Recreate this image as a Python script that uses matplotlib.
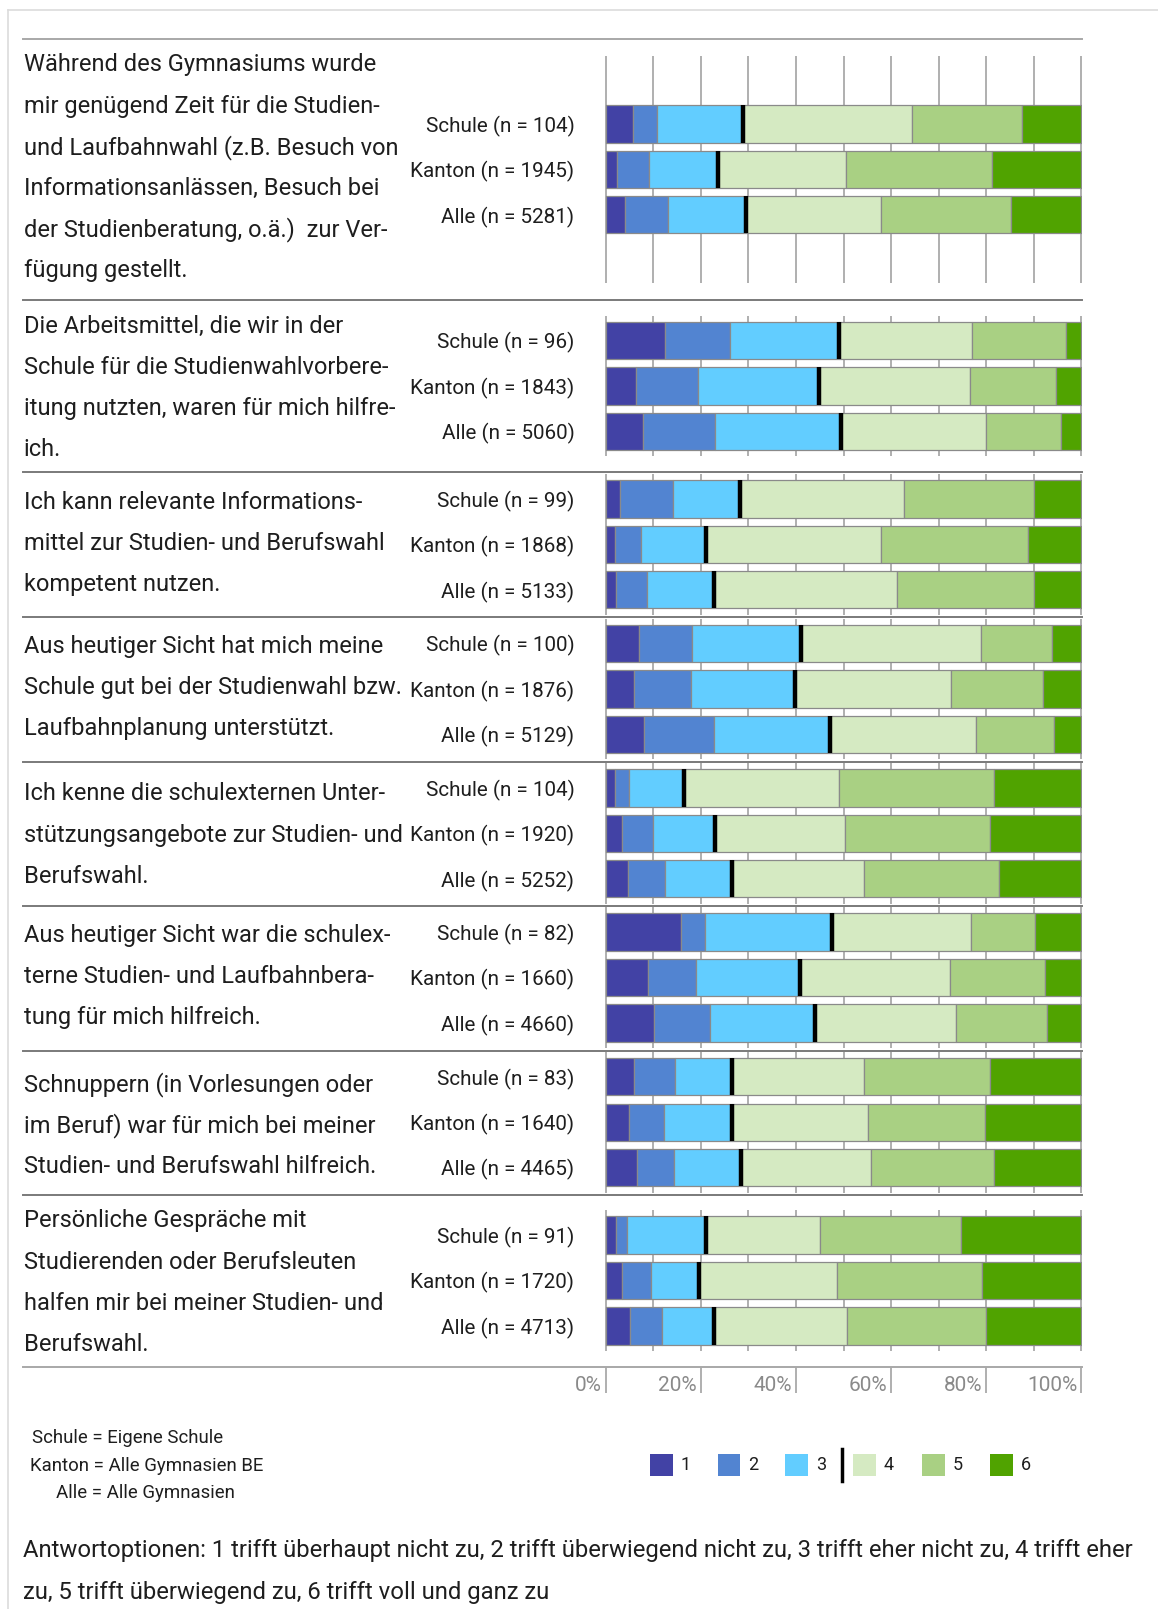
import numpy as np
import matplotlib
matplotlib.use("Agg")
import matplotlib.pyplot as plt
from matplotlib.patches import Rectangle
from matplotlib.lines import Line2D

plt.rcParams['font.family'] = ['Roboto', 'DejaVu Sans']

# ---------------- data ----------------
questions = [
    ["Während des Gymnasiums wurde", "mir genügend Zeit für die Studien-",
     "und Laufbahnwahl (z.B. Besuch von", "Informationsanlässen, Besuch bei",
     "der Studienberatung, o.ä.)  zur Ver-", "fügung gestellt."],
    ["Die Arbeitsmittel, die wir in der", "Schule für die Studienwahlvorbere-",
     "itung nutzten, waren für mich hilfre-", "ich."],
    ["Ich kann relevante Informations-", "mittel zur Studien- und Berufswahl",
     "kompetent nutzen."],
    ["Aus heutiger Sicht hat mich meine", "Schule gut bei der Studienwahl bzw.",
     "Laufbahnplanung unterstützt."],
    ["Ich kenne die schulexternen Unter-", "stützungsangebote zur Studien- und",
     "Berufswahl."],
    ["Aus heutiger Sicht war die schulex-", "terne Studien- und Laufbahnbera-",
     "tung für mich hilfreich."],
    ["Schnuppern (in Vorlesungen oder", "im Beruf) war für mich bei meiner",
     "Studien- und Berufswahl hilfreich."],
    ["Persönliche Gespräche mit", "Studierenden oder Berufsleuten",
     "halfen mir bei meiner Studien- und", "Berufswahl."],
]

groups = ["Schule", "Kanton", "Alle"]
n_values = [
    [104, 1945, 5281],
    [96, 1843, 5060],
    [99, 1868, 5133],
    [100, 1876, 5129],
    [104, 1920, 5252],
    [82, 1660, 4660],
    [83, 1640, 4465],
    [91, 1720, 4713],
]

# percentages for answers 1..6, per question, rows: Schule, Kanton, Alle
shares = [
    [[5.7, 5.0, 18.2, 35.5, 23.2, 12.4],
     [2.4, 6.7, 14.6, 26.9, 30.7, 18.7],
     [4.1, 9.0, 16.3, 28.4, 27.4, 14.8]],
    [[12.4, 13.7, 22.9, 28.0, 19.7, 3.3],
     [6.3, 13.1, 25.4, 31.7, 18.2, 5.3],
     [7.9, 15.1, 26.4, 30.6, 15.7, 4.3]],
    [[3.0, 11.2, 14.1, 34.4, 27.3, 10.0],
     [2.0, 5.4, 13.6, 36.8, 30.9, 11.3],
     [2.2, 6.5, 14.1, 38.5, 28.8, 9.9]],
    [[7.0, 11.1, 22.9, 38.0, 14.9, 6.1],
     [5.9, 12.1, 21.7, 32.9, 19.4, 8.0],
     [8.0, 14.7, 24.4, 30.7, 16.5, 5.7]],
    [[2.0, 2.9, 11.5, 32.6, 32.7, 18.3],
     [3.5, 6.5, 12.9, 27.5, 30.4, 19.2],
     [4.6, 7.8, 14.2, 27.8, 28.3, 17.3]],
    [[15.8, 5.0, 26.8, 29.3, 13.3, 9.8],
     [8.9, 10.0, 22.0, 31.5, 20.0, 7.6],
     [10.1, 11.9, 22.1, 29.5, 19.1, 7.3]],
    [[6.0, 8.5, 12.1, 27.7, 26.4, 19.3],
     [4.9, 7.3, 14.4, 28.6, 24.6, 20.2],
     [6.6, 7.8, 14.1, 27.3, 25.9, 18.3]],
    [[2.2, 2.3, 16.5, 24.1, 29.7, 25.2],
     [3.5, 6.0, 10.2, 28.9, 30.6, 20.8],
     [5.1, 6.8, 10.9, 28.0, 29.2, 20.0]],
]

answer_labels = ["1", "2", "3", "4", "5", "6"]
colors = ["#4242A5", "#5284D1", "#62CDFF", "#D5EAC2", "#A9D083", "#50A300"]
x_ticks = [0, 20, 40, 60, 80, 100]
x_tick_labels = ["0%", "20%", "40%", "60%", "80%", "100%"]
key_lines = ["Schule = Eigene Schule", "Kanton = Alle Gymnasien BE", "Alle = Alle Gymnasien"]
answer_text = ["Antwortoptionen: 1 trifft überhaupt nicht zu, 2 trifft überwiegend nicht zu, 3 trifft eher nicht zu, 4 trifft eher",
               "zu, 5 trifft überwiegend zu, 6 trifft voll und ganz zu"]

# ---------------- layout (pixels) ----------------
W, H = 1158, 1609
fig = plt.figure(figsize=(W / 100, H / 100), dpi=100)

def fx(x):
    return x / W

def fy(y):
    return 1 - y / H

TXT = "#1e1e1e"
FS_Q = 17.0
FS_A = 17.2
FS_N = 14.85
bar_left, bar_right = 605, 1082
pitch = 45.4
centers = [169.3, 386, 544.3, 688.9, 833.3, 977.5, 1122.2, 1280.5]
extents = [1.5, 0.55, 0.55, 0.55, 0.55, 0.55, 0.55, 0.55]
text_first = [65, 326.5, 502.5, 646.5, 794, 935.5, 1084.5, 1221]
line_step = 41.1
separators = [39, 300, 472, 617, 762, 906, 1051, 1195, 1367]
sep_colors = ["#a8a8a8"] + ["#7a7a7a"] * 7 + ["#a8a8a8"]

# page border
fig.add_artist(Line2D([fx(8), 1], [fy(10), fy(10)], color="#dcdcdc", lw=1.2))
fig.add_artist(Line2D([fx(8), fx(8)], [fy(10), 0], color="#dcdcdc", lw=1.2))

# separators
for y, c in zip(separators, sep_colors):
    fig.add_artist(Line2D([fx(22.6), fx(bar_right)], [fy(y), fy(y)], color=c, lw=1.4))

bh = 0.82
for qi, (qlines, rows, ns) in enumerate(zip(questions, shares, n_values)):
    ext = extents[qi]
    top = centers[qi] - (1 + ext) * pitch
    height = (2 + 2 * ext) * pitch
    ax = fig.add_axes([fx(bar_left), fy(top + height), fx(bar_right - bar_left), height / H])
    ypos = np.arange(len(groups))
    data = np.array(rows)
    cum = np.zeros(len(groups))
    for k in range(data.shape[1]):
        ax.barh(ypos, data[:, k], left=cum, height=bh, color=colors[k],
                edgecolor="#8a8a8a", linewidth=0.9, zorder=2)
        cum = cum + data[:, k]
        if k == 2:
            ax.vlines(cum, ypos - bh / 2, ypos + bh / 2, color="black", lw=3.2, zorder=3)
    ax.set_xlim(-0.15, 100.15)
    ax.set_ylim(2 + ext, -ext)
    ax.set_xticks(np.arange(0, 101, 10))
    ax.grid(axis="x", color="#9a9a9a", lw=1.1, zorder=0)
    ax.set_axisbelow(True)
    ax.set_yticks(ypos)
    ax.set_yticklabels([f"{g} (n = {n})" for g, n in zip(groups, ns)], fontsize=FS_N, color=TXT)
    ax.tick_params(axis="y", length=0, pad=22)
    ax.tick_params(axis="x", length=0, labelbottom=False)
    for s in ax.spines.values():
        s.set_visible(False)
    ax.patch.set_alpha(0)
    for li, line in enumerate(qlines):
        fig.text(fx(23.6), fy(text_first[qi] + li * line_step), line, fontsize=FS_Q,
                 color=TXT, ha="left", va="center")

# bottom percentage axis
axx = fig.add_axes([fx(bar_left), fy(1393), fx(bar_right - bar_left), (1393 - 1367) / H])
axx.set_xlim(-0.15, 100.15)
axx.set_ylim(0, 1)
axx.vlines(x_ticks, 0, 1, color="#9a9a9a", lw=1.1)
for t, lab in zip(x_ticks, x_tick_labels):
    axx.annotate(lab, (t, 0.28), xytext=(-3, 0), textcoords="offset points",
                 ha="right", va="center", fontsize=15, color="#8a8a8a")
axx.axis("off")

# key
key_pos = [(32, 1438), (30, 1466), (56.5, 1493)]
for (x, y), s in zip(key_pos, key_lines):
    fig.text(fx(x), fy(y), s, fontsize=13.4, color=TXT, ha="left", va="center")

# legend
leg_x = [650, 717.5, 785, 853, 922, 990]
for x, c, lab in zip(leg_x, colors, answer_labels):
    fig.add_artist(Rectangle((fx(x), fy(1476)), fx(22.5), 22 / H, color=c, lw=0))
    fig.text(fx(x + 31), fy(1465.5), lab, fontsize=13, color=TXT, ha="left", va="center")
fig.add_artist(Line2D([fx(842), fx(842)], [fy(1449), fy(1481)], color="black", lw=2.5))

# answer options
for i, s in enumerate(answer_text):
    fig.text(fx(22.6), fy(1551 + i * 42), s, fontsize=FS_A, color=TXT, ha="left", va="center")

fig.savefig("out.png", dpi=100)
